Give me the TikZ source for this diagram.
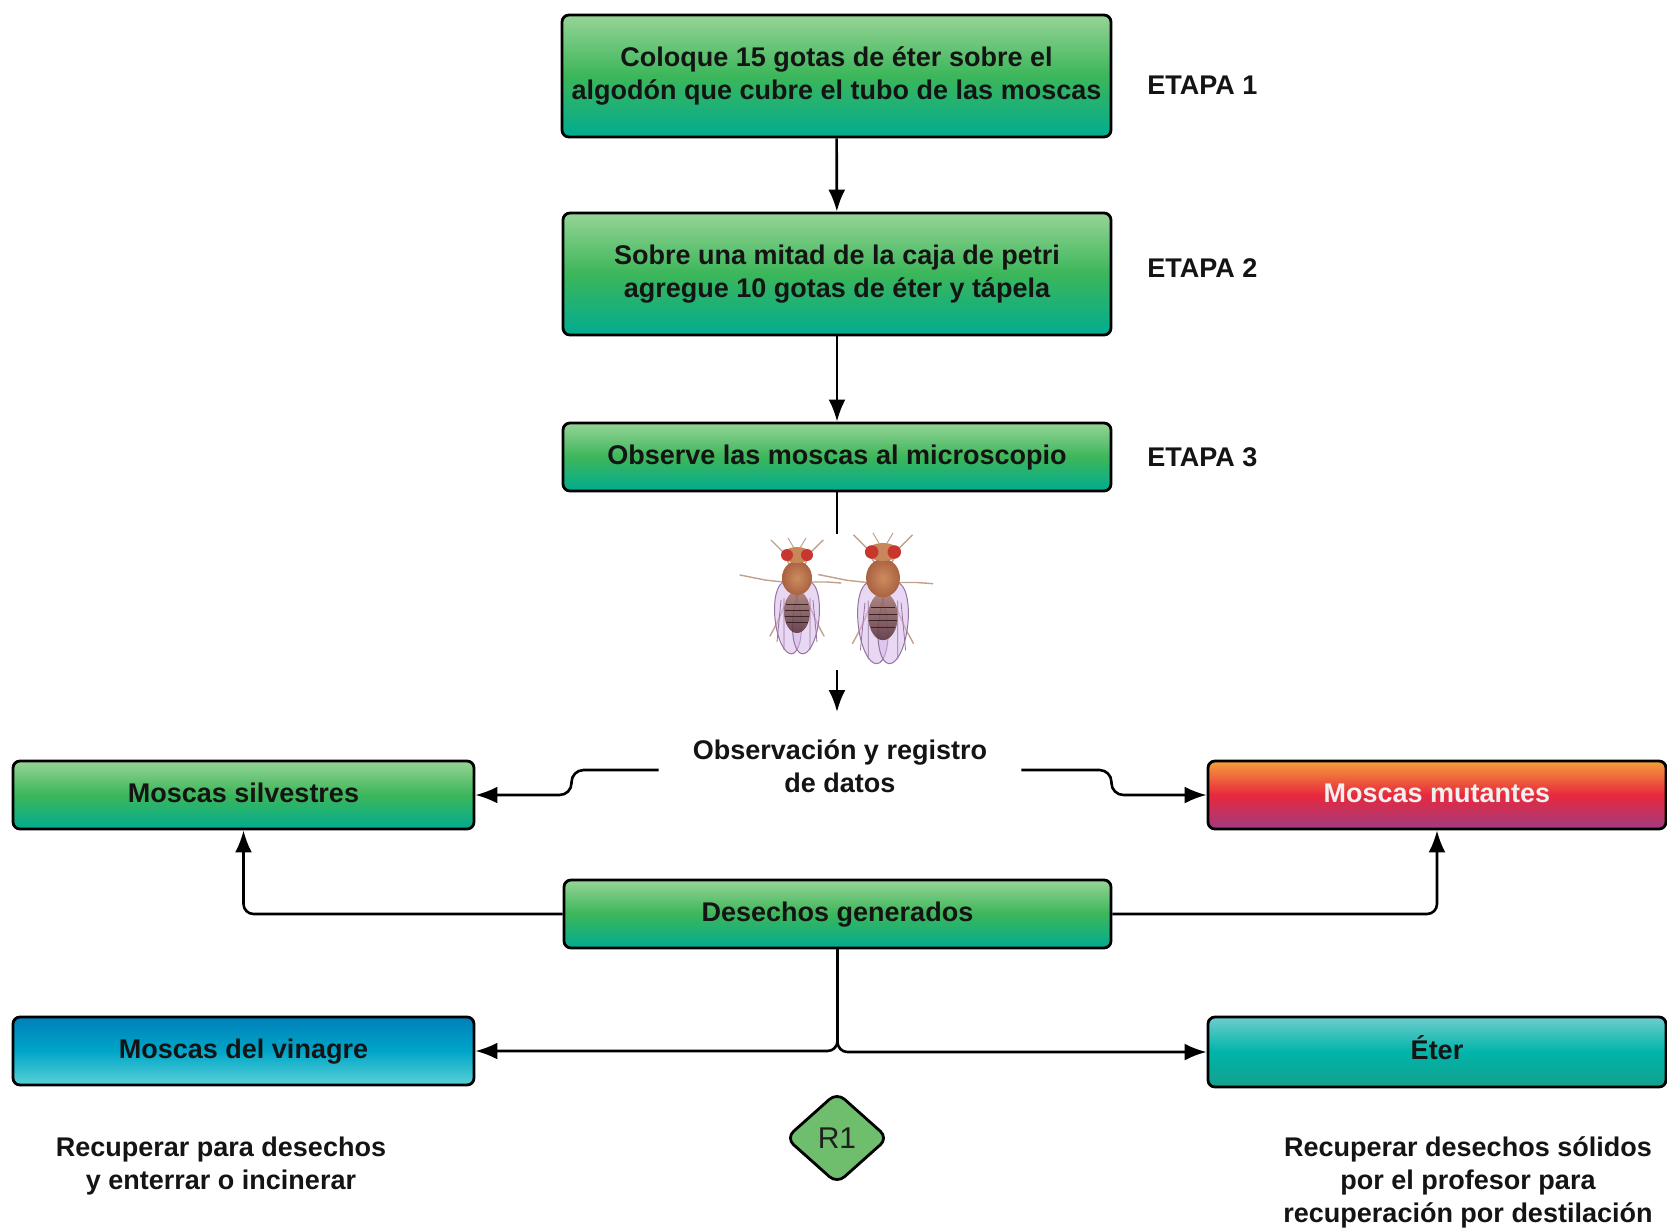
\documentclass[tikz,border=0pt]{standalone}
\usepackage{fontspec}
\setmainfont{Liberation Sans}
\usetikzlibrary{arrows.meta,shapes.geometric,calc}

\definecolor{gtop}{RGB}{150,212,150}
\definecolor{gmid}{RGB}{60,182,90}
\definecolor{gbot}{RGB}{0,172,145}
\definecolor{mtop}{RGB}{245,160,60}
\definecolor{mmid}{RGB}{232,40,60}
\definecolor{mbot}{RGB}{160,60,130}
\definecolor{vtop}{RGB}{0,128,185}
\definecolor{vmid}{RGB}{0,165,200}
\definecolor{vbot}{RGB}{90,210,215}
\definecolor{etop}{RGB}{110,205,205}
\definecolor{emid}{RGB}{0,180,170}
\definecolor{ebot}{RGB}{20,160,140}
\definecolor{rgreen}{RGB}{110,190,110}
\definecolor{leg}{RGB}{195,160,140}
\definecolor{wing}{RGB}{215,185,235}
\definecolor{wingline}{RGB}{150,115,160}
\definecolor{thor}{RGB}{170,98,65}
\definecolor{thorlight}{RGB}{205,140,95}
\definecolor{abdotop}{RGB}{165,120,110}
\definecolor{abdobot}{RGB}{85,48,55}
\definecolor{headc}{RGB}{200,135,90}
\definecolor{eye}{RGB}{200,55,45}

% a stylised fruit fly, centred on its thorax
\newcommand\drawfly[3]{%
  \begin{scope}[shift={(#1,#2)},scale=#3]
    \draw[leg,line width=0.7pt,line cap=round]
      (-6,-10) -- (-14,-26) -- (-26,-38)
      (6,-10) -- (14,-26) -- (26,-38)
      (-14,4) -- (-32,2) -- (-57,-3)
      (14,4) -- (30,4) -- (44,5)
      (-10,22) -- (-20,45) -- (-27,58)
      (10,22) -- (20,45) -- (27,58);
    \filldraw[fill=wing,fill opacity=0.55,draw=wingline,line width=0.5pt]
      (-9,40) ellipse [x radius=13, y radius=36, rotate=6];
    \filldraw[fill=wing,fill opacity=0.55,draw=wingline,line width=0.5pt]
      (9,40) ellipse [x radius=13, y radius=36, rotate=-6];
    \shade[top color=abdotop,bottom color=abdobot,opacity=0.85] (0,34) ellipse [x radius=13, y radius=21];
    \draw[abdobot!70!black,line width=0.5pt]
      (-11,26) -- (11,26) (-12,32) -- (12,32) (-12,38) -- (12,38) (-11,44) -- (11,44);
    \draw[wingline,line width=0.4pt]
      (-13,20) -- (-13,72) (-16,22) -- (-20,64) (13,20) -- (13,72) (16,22) -- (20,64);
    \shade[inner color=thorlight,outer color=thor] (0,0) ellipse [x radius=15, y radius=17];
    \fill[headc] (0,-23) ellipse [x radius=14, y radius=8];
    \fill[eye] (-10,-23) circle [radius=6];
    \fill[eye] (10,-23) circle [radius=6];
    \draw[leg,line width=0.5pt] (-3,-30) -- (-9,-40) (3,-30) -- (9,-40);
  \end{scope}}

\begin{document}
\begin{tikzpicture}[x=0.5pt,y=-0.5pt,
  font=\fontsize{13.5pt}{16.5pt}\selectfont\bfseries,
  box/.style={draw=black,line width=1.4pt,rounded corners=3.5pt,
    align=center,text=black!92,inner sep=0pt},
  oneline/.style={text height=9.9pt,text depth=2.9pt},
  greenbox/.style={box,top color=gtop,bottom color=gbot,middle color=gmid},
  redbox/.style={box,top color=mtop,bottom color=mbot,middle color=mmid,text=white!94!black},
  bluebox/.style={box,top color=vtop,bottom color=vbot,middle color=vmid},
  tealbox/.style={box,top color=etop,bottom color=ebot,middle color=emid},
  conn/.style={line width=1.3pt,draw=black},
  arr/.style={conn,-{Latex[length=11pt,width=8.5pt]}},
  label/.style={align=center,text=black!92,inner sep=0pt}]

\useasboundingbox[fill=white] (0,0) rectangle (1667,1228);

% main sequence
\node[greenbox,minimum width=274.5pt,minimum height=61pt] (b1) at (836.5,76)
  {Coloque 15 gotas de éter sobre el\\algodón que cubre el tubo de las moscas};
\node[greenbox,minimum width=274pt,minimum height=61pt] (b2) at (837,274)
  {Sobre una mitad de la caja de petri\\agregue 10 gotas de éter y tápela};
\node[greenbox,oneline,minimum width=274pt,minimum height=34pt] (b3) at (837,457)
  {Observe las moscas al microscopio};

\node[label,anchor=west] (e1) at (1147,85) {ETAPA 1};
\node[label,anchor=west] (e2) at (1147,268) {ETAPA 2};
\node[label,anchor=west] (e3) at (1147,457) {ETAPA 3};

\draw[arr] (b1) -- (b2);
\draw[arr] (b2) -- (b3);

% flies under the microscope
\coordinate (flytop) at (837,534);
\coordinate (flybot) at (837,670);
\coordinate (obstop) at (837,712);
\draw[conn] (b3.south) -- (flytop);
\drawfly{797}{578}{1}
\drawfly{883}{578}{1.13}

\node[label,inner xsep=17pt] (obs) at (840,766) {Observación y registro\\de datos};
\draw[arr] (flybot) -- (obstop);

% results
\node[greenbox,oneline,minimum width=230.5pt,minimum height=34pt] (silv) at (243.5,795)
  {Moscas silvestres};
\node[redbox,oneline,minimum width=229pt,minimum height=34pt] (mut) at (1437,795)
  {Moscas mutantes};
\draw[arr,rounded corners=6pt] ([yshift=-2pt]obs.west) -- ++(-87,0) |- (silv.east);
\draw[arr,rounded corners=6pt] ([yshift=-2pt]obs.east) -- ++(90,0) |- (mut.west);

% waste
\node[greenbox,oneline,minimum width=273.5pt,minimum height=34pt] (des) at (837.5,914)
  {Desechos generados};
\draw[arr,rounded corners=5pt] (des.west) -| (silv.south);
\draw[arr,rounded corners=5pt] (des.east) -| (mut.south);

\node[bluebox,oneline,minimum width=230.5pt,minimum height=34pt] (vin) at (243.5,1051)
  {Moscas del vinagre};
\node[tealbox,oneline,minimum width=229pt,minimum height=35pt] (eter) at (1437,1052)
  {Éter};
\draw[arr,rounded corners=5pt] (des.south) |- (vin.east);
\draw[arr,rounded corners=5pt] (des.south) |- (eter.west);

% disposal
\node[diamond,draw=black,line width=1.4pt,fill=rgreen,rounded corners=5pt,
  minimum width=51.5pt,minimum height=46pt,inner sep=0pt,
  font=\fontsize{15pt}{18pt}\selectfont\mdseries,text=black!88] (r1) at (837,1138) {R1};

\node[label] (dl) at (221,1166) {Recuperar para desechos\\y enterrar o incinerar};
\node[label] (dr) at (1468,1182)
  {Recuperar desechos sólidos\\por el profesor para\\recuperación por destilación};

\end{tikzpicture}
\end{document}
